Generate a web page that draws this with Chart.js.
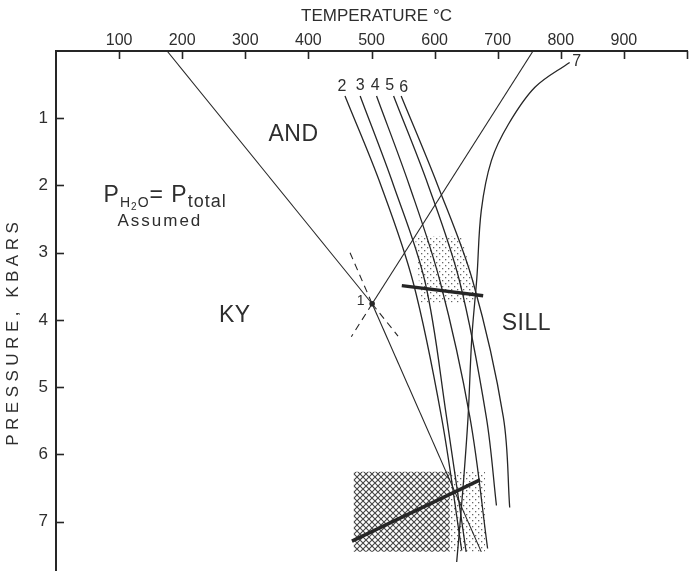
<!DOCTYPE html>
<html>
<head>
<meta charset="utf-8">
<script src="https://cdn.jsdelivr.net/npm/chart.js@4.4.1/dist/chart.umd.min.js"></script>
<style>
  html, body { margin: 0; padding: 0; background: #fff; }
  #chart { display: block; }
</style>
</head>
<body>
<canvas id="chart" width="696" height="574"></canvas>
<script>
// axis ticks
const tempTicks = [100, 200, 300, 400, 500, 600, 700, 800, 900];
const pressureTicks = [1, 2, 3, 4, 5, 6, 7];

// Al2SiO5 boundaries, [T degC, P kbar]
const kyAnd = [[176, 0], [501, 3.76]];
const andSill = [[756, 0], [501, 3.76]];
const kySill = [[501, 3.76], [674, 7.45]];
const kySillMeta = [[466, 3.0], [501, 3.76]];
const kyAndMeta = [[501, 3.76], [542, 4.24]];
const andSillMeta = [[501, 3.76], [468, 4.25]];
const triplePoint = [[501, 3.76]];

// reaction curves 2..7
const curve2 = [[458, 0.67], [515, 2.0], [566, 3.44], [611, 5.45], [643, 7.43]];
const curve3 = [[482, 0.67], [535, 2.0], [585, 3.44], [619, 5.45], [650, 7.45]];
const curve4 = [[508, 0.67], [560, 2.0], [609, 3.44], [656, 5.45], [684, 7.4]];
const curve5 = [[535, 0.67], [590, 2.0], [640, 3.44], [682, 5.45], [698, 6.76]];
const curve6 = [[547, 0.67], [605, 2.0], [661, 3.44], [709, 5.45], [719, 6.79]];
const curve7 = [[814, 0.17], [759, 0.54], [717, 1.09], [690, 1.63], [674, 2.37],
                [667, 3.37], [659, 4.26], [653, 5.45], [645, 6.5], [635, 7.6]];

// heavy bars and shaded fields
const upperBar = [[548, 3.49], [677, 3.64]];
const lowerBar = [[469, 7.29], [672, 6.38]];
const upperDots = [[569, 2.75], [642, 2.75], [664, 3.5], [662, 3.74], [578, 3.74], [569, 2.75]];
const crossField = [[472, 6.26], [624, 6.26], [624, 7.45], [472, 7.45], [472, 6.26]];
const lowerDots = [[624, 6.26], [680, 6.26], [680, 7.45], [624, 7.45], [624, 6.26]];

// text anchors, [T, P]
const fieldLabels = [['AND', 376, 1.25], ['KY', 283, 3.94], ['SILL', 745, 4.06]];
const curveLabels = [['2', 453, 0.53], ['3', 482, 0.51], ['4', 506, 0.51], ['5', 529, 0.51],
                     ['6', 551, 0.54], ['7', 825, 0.16]];
const pointLabel = ['1', 489, 3.72];
const noteAnchor = [173, 2.25];
const noteAnchor2 = [163, 2.6];

const ink = '#262626';
const textInk = '#2e2e2e';
const fontFamily = "'Liberation Sans', Arial, sans-serif";

function toXY(pairs) {
  return pairs.map(p => ({ x: p[0], y: p[1] }));
}

function crossPattern() {
  const c = document.createElement('canvas');
  c.width = 6; c.height = 6;
  const g = c.getContext('2d');
  g.strokeStyle = '#444';
  g.lineWidth = 1.1;
  g.beginPath();
  g.moveTo(-1, -1); g.lineTo(7, 7);
  g.moveTo(7, -1); g.lineTo(-1, 7);
  g.stroke();
  return g.createPattern(c, 'repeat');
}

function dotPattern() {
  const c = document.createElement('canvas');
  c.width = 6; c.height = 6;
  const g = c.getContext('2d');
  g.fillStyle = '#666';
  g.fillRect(1, 1, 1.3, 1.3);
  g.fillRect(4, 4, 1.3, 1.3);
  return g.createPattern(c, 'repeat');
}

function line(data, opts) {
  return Object.assign({
    data: toXY(data),
    showLine: true,
    borderColor: ink,
    borderWidth: 1.3,
    pointRadius: 0,
    fill: false,
    tension: 0
  }, opts || {});
}

function field(data, pattern) {
  return {
    data: toXY(data),
    showLine: true,
    borderWidth: 0,
    borderColor: 'rgba(0,0,0,0)',
    backgroundColor: pattern,
    pointRadius: 0,
    fill: 'shape',
    order: 2
  };
}

// letterSpacing adds space after the last glyph too, so centre by hand
function spaced(ctx, text, px, py, spacing) {
  ctx.letterSpacing = spacing + 'px';
  const w = ctx.measureText(text).width - spacing;
  const align = ctx.textAlign;
  ctx.textAlign = 'left';
  ctx.fillText(text, px - w / 2, py);
  ctx.textAlign = align;
  ctx.letterSpacing = '0px';
}

const overlay = {
  id: 'overlay',
  afterDraw(chart) {
    const { ctx, chartArea: area, scales: { x, y } } = chart;
    ctx.save();
    ctx.strokeStyle = ink;
    ctx.lineWidth = 1.6;
    // tick marks point into the plot
    tempTicks.concat([1000]).forEach(v => {
      const px = Math.round(x.getPixelForValue(v)) + 0.5;
      ctx.beginPath();
      ctx.moveTo(px, area.top);
      ctx.lineTo(px, area.top + 8);
      ctx.stroke();
    });
    pressureTicks.forEach(v => {
      const py = Math.round(y.getPixelForValue(v)) + 0.5;
      ctx.beginPath();
      ctx.moveTo(area.left, py);
      ctx.lineTo(area.left + 8, py);
      ctx.stroke();
    });

    ctx.fillStyle = textInk;
    ctx.textAlign = 'center';
    ctx.textBaseline = 'alphabetic';

    // axis titles
    ctx.font = '17px ' + fontFamily;
    ctx.fillText('TEMPERATURE °C', (x.left + x.right) / 2 + 5, 21);
    ctx.save();
    ctx.translate(18, 334);
    ctx.rotate(-Math.PI / 2);
    spaced(ctx, 'PRESSURE, KBARS', 0, 0, 4.5);
    ctx.restore();

    ctx.textBaseline = 'middle';
    ctx.font = '23px ' + fontFamily;
    fieldLabels.forEach(l => spaced(ctx, l[0], x.getPixelForValue(l[1]), y.getPixelForValue(l[2]), 0.5));
    ctx.font = '16px ' + fontFamily;
    curveLabels.forEach(l => ctx.fillText(l[0], x.getPixelForValue(l[1]), y.getPixelForValue(l[2])));
    ctx.font = '14px ' + fontFamily;
    ctx.textAlign = 'right';
    ctx.fillText(pointLabel[0], x.getPixelForValue(pointLabel[1]), y.getPixelForValue(pointLabel[2]));

    // P(H2O) = P(total), drawn piece by piece on one baseline
    const parts = [['P', 23, 0], ['H', 14, 5], ['2', 10, 7.5], ['O', 14, 5], ['= ', 23, 0], ['P', 23, 0], ['total', 18, 5]];
    ctx.letterSpacing = '1px';
    let w = 0;
    parts.forEach(p => { ctx.font = p[1] + 'px ' + fontFamily; w += ctx.measureText(p[0]).width; });
    let cx = x.getPixelForValue(noteAnchor[0]) - w / 2;
    const cy = y.getPixelForValue(noteAnchor[1]);
    ctx.textAlign = 'left';
    ctx.textBaseline = 'alphabetic';
    parts.forEach(p => {
      ctx.font = p[1] + 'px ' + fontFamily;
      ctx.fillText(p[0], cx, cy + p[2]);
      cx += ctx.measureText(p[0]).width;
    });
    ctx.letterSpacing = '0px';
    ctx.font = '17px ' + fontFamily;
    spaced(ctx, 'Assumed', x.getPixelForValue(noteAnchor2[0]), y.getPixelForValue(noteAnchor2[1]), 2);
    ctx.restore();
  }
};

Chart.defaults.font.family = fontFamily;
Chart.defaults.color = textInk;

new Chart(document.getElementById('chart'), {
  type: 'scatter',
  data: {
    datasets: [
      line(triplePoint, { showLine: false, pointRadius: 2.8, pointBackgroundColor: ink, pointBorderWidth: 0 }),
      line(kyAnd, { borderWidth: 1.1 }),
      line(andSill, { borderWidth: 1.1 }),
      line(kySill, { borderWidth: 1.1 }),
      line(kySillMeta, { borderWidth: 1.1, borderDash: [7, 5] }),
      line(kyAndMeta, { borderWidth: 1.1, borderDash: [7, 5] }),
      line(andSillMeta, { borderWidth: 1.1, borderDash: [7, 5] }),
      line(curve2, { tension: 0.35 }),
      line(curve3, { tension: 0.35 }),
      line(curve4, { tension: 0.35 }),
      line(curve5, { tension: 0.35 }),
      line(curve6, { tension: 0.35 }),
      line(curve7, { tension: 0.35 }),
      line(upperBar, { borderWidth: 3.5 }),
      line(lowerBar, { borderWidth: 3.5 }),
      field(upperDots, dotPattern()),
      field(crossField, crossPattern()),
      field(lowerDots, dotPattern())
    ]
  },
  options: {
    responsive: false,
    animation: false,
    layout: { padding: { left: 0, right: 9, top: 0, bottom: 0 } },
    plugins: { legend: { display: false }, tooltip: { enabled: false } },
    scales: {
      x: {
        type: 'linear',
        position: 'top',
        min: 0,
        max: 1000,
        afterBuildTicks: s => { s.ticks = tempTicks.map(v => ({ value: v })); },
        afterFit: s => { s.height = 51; s.paddingLeft = 0; s.paddingRight = 0; },
        grid: { display: false, drawTicks: false },
        border: { display: true, color: ink, width: 2 },
        ticks: { padding: 1, font: { size: 16 }, color: textInk, maxRotation: 0 }
      },
      y: {
        type: 'linear',
        reverse: true,
        min: 0,
        max: 7.72,
        afterBuildTicks: s => { s.ticks = pressureTicks.map(v => ({ value: v })); },
        afterFit: s => { s.width = 56; s.paddingTop = 0; s.paddingBottom = 0; },
        grid: { display: false, drawTicks: false },
        border: { display: true, color: ink, width: 2 },
        ticks: { padding: 8, font: { size: 17 }, color: textInk }
      }
    }
  },
  plugins: [overlay]
});
</script>
</body>
</html>
